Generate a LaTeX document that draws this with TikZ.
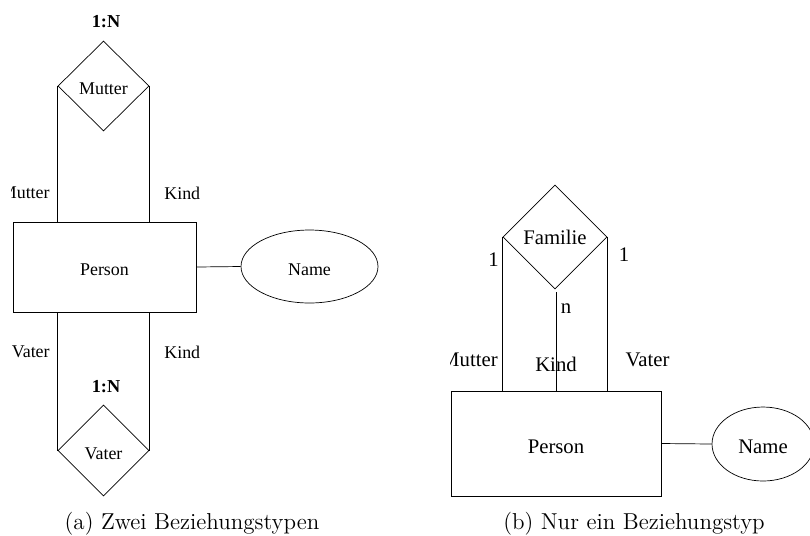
\documentclass[tikz,border=0pt]{standalone}
\usepackage{fontspec}
\newfontfamily\erfont{Liberation Serif}
\usetikzlibrary{shapes.geometric}

\begin{document}
\begin{tikzpicture}[x=0.02cm, y=-0.02cm,
    entity/.style={draw, rectangle, inner sep=0pt},
    relation/.style={draw, diamond, inner sep=0pt},
    attribute/.style={draw, ellipse, inner sep=0pt},
    lbl/.style={inner sep=0pt},
    smalltext/.style={font=\erfont\fontsize{10.2}{12}\selectfont},
    largetext/.style={font=\erfont\fontsize{11.8}{14}\selectfont},
    card/.style={inner sep=0pt, font=\erfont\fontsize{10.4}{12}\selectfont\bfseries},
    caption/.style={font=\fontsize{13.1}{15}\selectfont}]

    %% Background
    \useasboundingbox (0,0) rectangle (810,535);

    % (a) two relationship types
    \begin{scope}[smalltext, every node/.append style={text depth=0pt}]
    \clip (11,0) rectangle (400,505);
    \node[entity, text height=1em, minimum width=3.66cm, minimum height=1.8cm] (personA) at (104.5,267) {Person};
    \node[attribute, text height=1em, minimum width=2.74cm, minimum height=1.46cm] (nameA) at (309.5,266.5) {Name};
    \node[relation, text height=1em, minimum width=1.82cm, minimum height=1.8cm] (mutter) at (103.5,86) {Mutter};
    \node[relation, text height=1em, minimum width=1.82cm, minimum height=1.82cm] (vater) at (103.5,450.5) {Vater};

    \draw (mutter.west) -- (mutter.west |- personA.north);
    \draw (mutter.east) -- (mutter.east |- personA.north);
    \draw (vater.west) -- (vater.west |- personA.south);
    \draw (vater.east) -- (vater.east |- personA.south);
    \draw (personA.east) -- (nameA.west);

    \node[lbl, anchor=east] (rolleMA) at (50,193) {Mutter};
    \node[lbl, anchor=west] (rolleKA) at (164,193) {Kind};
    \node[lbl, anchor=east] (rolleVA) at (50,352) {Vater};
    \node[lbl, anchor=west] (rolleKB) at (164,352) {Kind};
    \node[card] (cardM) at (106,21.5) {1:N};
    \node[card] (cardV) at (106,386) {1:N};
    \end{scope}

    % (b) one relationship type
    \begin{scope}[largetext, every node/.append style={text depth=0pt}]
    \clip (450,0) rectangle (810,505);
    \node[entity, text height=1.1em, minimum width=4.2cm, minimum height=2.1cm] (personB) at (556,443.5) {Person};
    \node[attribute, text height=1.1em, minimum width=2.04cm, minimum height=1.48cm] (nameB) at (763,444) {Name};
    \node[relation, text height=0.9em, minimum width=2.08cm, minimum height=2.08cm] (familie) at (555,237) {Familie};

    \draw (familie.west) -- (familie.west |- personB.north);
    \draw (familie.east) -- (familie.east |- personB.north);
    \draw[shorten <=1.7pt] (familie.south -| personB.north) -- (personB.north);
    \draw (personB.east) -- (nameB.west);

    \node[lbl] (einsM) at (493.5,260) {1};
    \node[lbl] (einsV) at (624,254.5) {1};
    \node[lbl] (nK) at (566,309) {n};
    \node[lbl, anchor=east] (rolleMB) at (498,360) {Mutter};
    \node[lbl] (rolleKC) at (556,364) {Kind};
    \node[lbl] (rolleVB) at (647.5,360) {Vater};
    \end{scope}

    % captions
    \node[caption] (capA) at (192,524) {(a) Zwei Beziehungstypen};
    \node[caption] (capB) at (634,524) {(b) Nur ein Beziehungstyp};

\end{tikzpicture}
\end{document}
